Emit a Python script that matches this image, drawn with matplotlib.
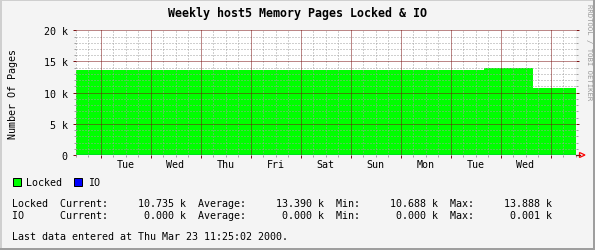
import matplotlib

matplotlib.use("Agg")
import matplotlib.pyplot as plt
from matplotlib.patches import Rectangle, Polygon
from matplotlib.lines import Line2D
from matplotlib.transforms import blended_transform_factory
import numpy as np

# data (x in hours from left edge of graph = Mon 12:00)
locked_times = [0, 196, 219.5, 240]
locked_vals = [13.6, 13.888, 10.735, 10.735]   # k pages
io_times = [0, 240]
io_vals = [0.0, 0.0]

day_labels = ["Tue", "Wed", "Thu", "Fri", "Sat", "Sun", "Mon", "Tue", "Wed"]
day_label_pos = [24 + 24 * i for i in range(len(day_labels))]
ytick_vals = [0, 5, 10, 15, 20]
ytick_labels = ["0", "5 k", "10 k", "15 k", "20 k"]

title = "Weekly host5 Memory Pages Locked & IO"
ylabel = "Number Of Pages"
stat_lines = [
    "Locked  Current:     10.735 k  Average:     13.390 k  Min:     10.688 k  Max:     13.888 k",
    "IO      Current:      0.000 k  Average:      0.000 k  Min:      0.000 k  Max:      0.001 k",
]
footer = "Last data entered at Thu Mar 23 11:25:02 2000."

W, H = 595, 251
BG = "#F4F4F4"
MGRID = "#7A1010"
GRID = "#A0A0A0"
MONO = "DejaVu Sans Mono"
FS = 7.2

fig = plt.figure(figsize=(W / 100, H / 100), dpi=100, facecolor=BG)


def fx(x):
    return x / W


def fy(y):
    return 1 - y / H


# plot area in pixels
x0, x1 = 75.5, 575.5
ytop, ybot = 31.3, 156.0
ax = fig.add_axes([fx(x0), fy(ybot), (x1 - x0) / W, (ybot - ytop) / H])
ax.set_facecolor("white")
ax.set_xlim(0, 240)
ax.set_ylim(0, 20)
for s in ax.spines.values():
    s.set_visible(False)

ax.fill_between(locked_times, locked_vals, step="post", color="#00FF00", lw=0, zorder=1)
ax.fill_between(io_times, io_vals, step="post", color="#0000FF", lw=0, zorder=1)

# grid drawn over the areas, like rrdtool
grid_kw = dict(color=GRID, lw=0.72, ls=(0, (1, 2)), zorder=3)
mgrid_kw = dict(color=MGRID, lw=0.72, ls=(0, (1, 1)), zorder=4)
for v in np.arange(0, 241, 6):
    if (v - 12) % 24 != 0:
        ax.axvline(v, **grid_kw)
for v in np.arange(0, 21, 1):
    if v % 5 != 0:
        ax.axhline(v, **grid_kw)
for v in np.arange(12, 240, 24):
    ax.axvline(v, **mgrid_kw)
for v in ytick_vals:
    ax.axhline(v, **mgrid_kw)
ax.axvline(240, color=GRID, lw=0.72, zorder=3)

# ticks
ax.set_yticks(ytick_vals)
ax.set_yticklabels(ytick_labels, fontfamily=MONO, fontsize=FS)
ax.set_yticks(np.arange(0, 21, 1), minor=True)
ax.set_xticks(np.arange(12, 240, 24))
ax.set_xticklabels([])
ax.set_xticks(np.arange(0, 241, 6), minor=True)
ax.tick_params(which="major", direction="out", length=2.2, width=0.72, color=MGRID,
               left=True, right=True, bottom=True, pad=3.5)
ax.tick_params(which="minor", direction="out", length=1.5, width=0.72, color=GRID,
               left=True, right=True, bottom=True)

# blue IO line at zero and axis extension with arrow
ax.plot(io_times, io_vals, color="#0000FF", lw=0.9, zorder=5, solid_capstyle="butt")
fig.add_artist(Line2D([fx(x1), fx(580)], [fy(ybot), fy(ybot)], color=MGRID, lw=0.9))
fig.add_artist(Polygon([(fx(579.5), fy(153.5)), (fx(585), fy(156)), (fx(579.5), fy(158.5))],
                       closed=True, fill=False, edgecolor="red", lw=0.9))

# day labels
trans = blended_transform_factory(ax.transData, fig.transFigure)
for pos, lab in zip(day_label_pos, day_labels):
    ax.text(pos, fy(165), lab, transform=trans, ha="center", va="center",
            fontfamily=MONO, fontsize=FS, clip_on=False)

# title and labels
fig.text(fx(297.5), fy(14), title, ha="center", va="center",
         fontfamily=MONO, fontsize=8.4, fontweight="bold")
fig.text(fx(12.5), fy(94), ylabel, ha="center", va="center", rotation=90,
         fontfamily=MONO, fontsize=FS)
fig.text(fx(588.5), fy(4), "RRDTOOL / TOBI OETIKER", ha="center", va="top", rotation=270,
         fontfamily=MONO, fontsize=5.2, color="#999999")

# legend
fig.add_artist(Rectangle((fx(12.5), fy(187)), 8 / W, 8 / H, facecolor="#00FF00",
                         edgecolor="black", lw=0.72))
fig.text(fx(26.3), fy(183), "Locked", ha="left", va="center", fontfamily=MONO, fontsize=FS)
fig.add_artist(Rectangle((fx(73.5), fy(187)), 8 / W, 8 / H, facecolor="#0000FF",
                         edgecolor="black", lw=0.72))
fig.text(fx(88.3), fy(183), "IO", ha="left", va="center", fontfamily=MONO, fontsize=FS)

for yy, line in zip([204.3, 215.7], stat_lines):
    fig.text(fx(12.3), fy(yy), line, ha="left", va="center", fontfamily=MONO, fontsize=FS)
fig.text(fx(12.3), fy(237), footer, ha="left", va="center", fontfamily=MONO, fontsize=FS)

# 3d frame
fig.add_artist(Line2D([0, 1], [fy(1), fy(1)], color="#CFCFCF", lw=1.44))
fig.add_artist(Line2D([fx(1), fx(1)], [0, 1], color="#CFCFCF", lw=1.44))
fig.add_artist(Line2D([0, 1], [fy(250), fy(250)], color="#9E9E9E", lw=1.44))
fig.add_artist(Line2D([fx(594), fx(594)], [0, 1], color="#9E9E9E", lw=1.44))

fig.savefig("out.png", dpi=100, facecolor=BG)
